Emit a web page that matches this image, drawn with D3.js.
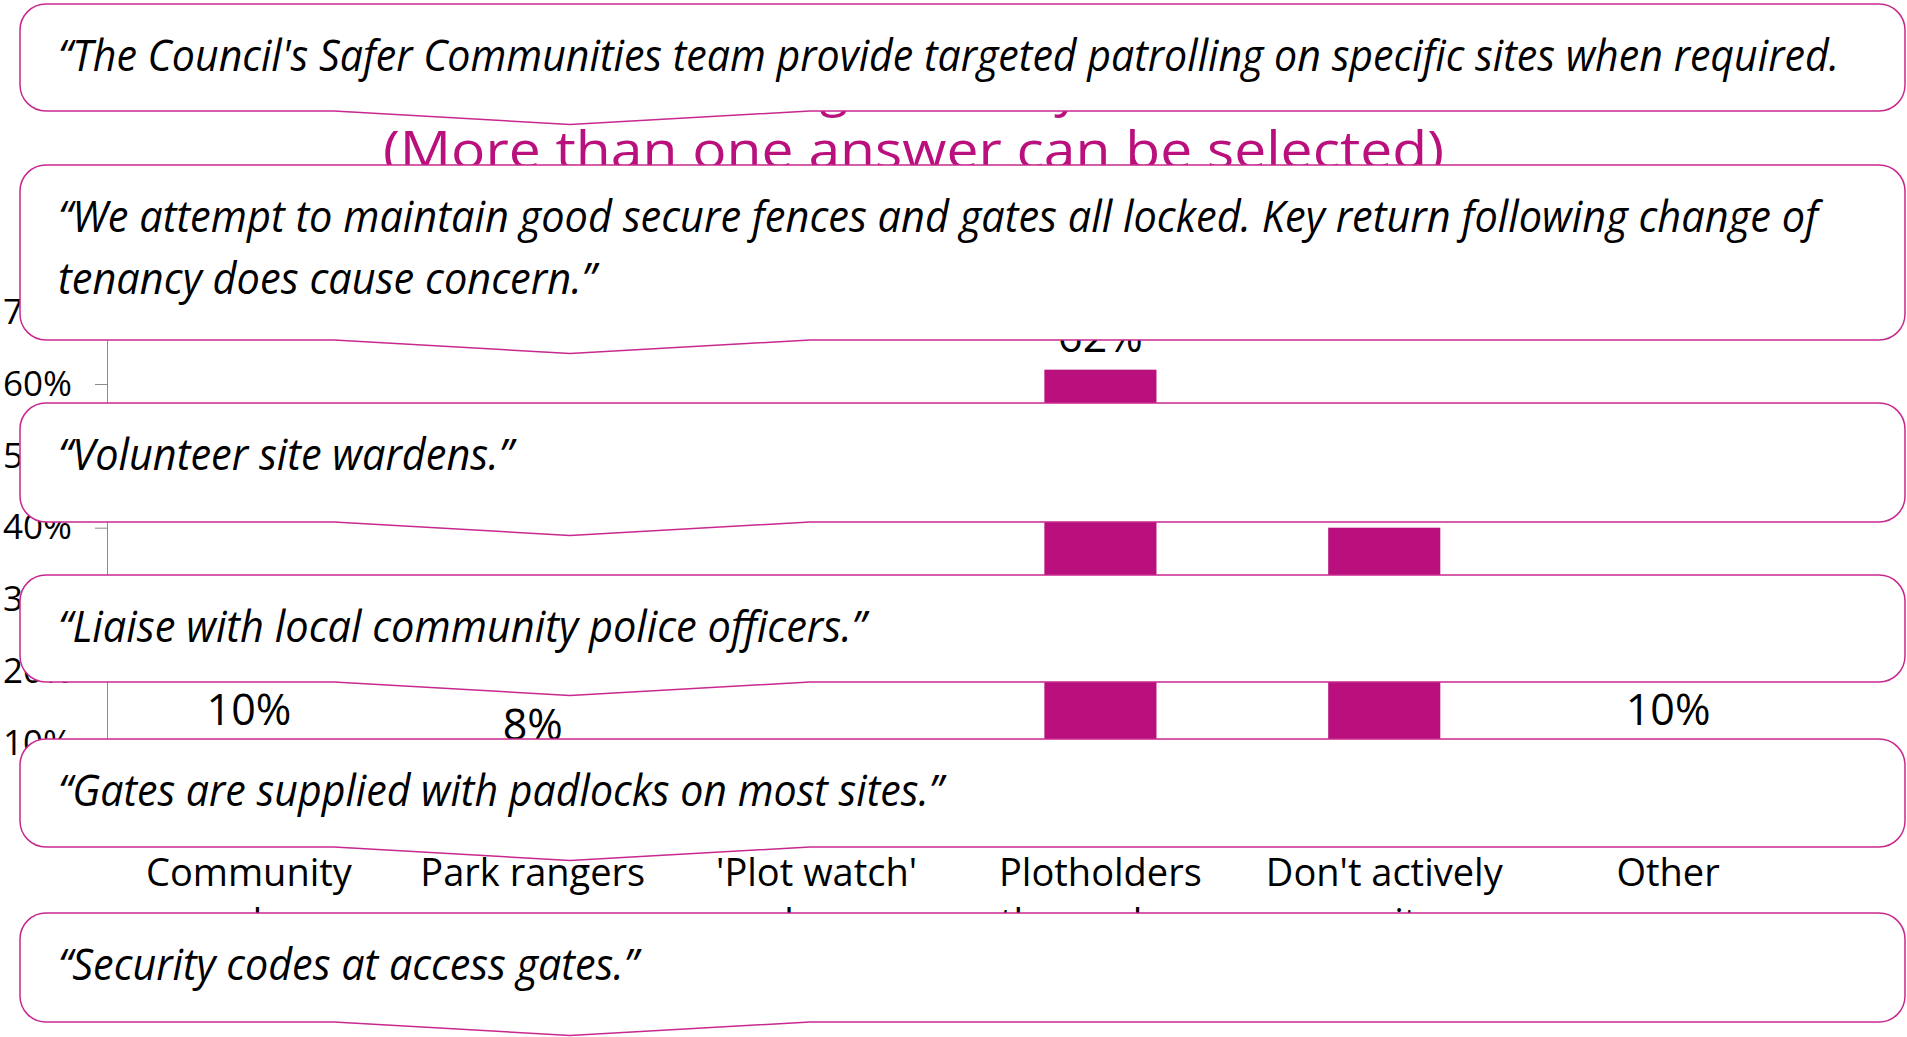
<!DOCTYPE html>
<html lang="en">
<head>
<meta charset="utf-8" />
<title>Site security</title>
<script src="https://d3js.org/d3.v7.min.js"></script>
<style>
	body { margin: 0; background: #fff; }
	svg { display: block; font-family: "Open Sans", sans-serif; }
</style>
</head>
<body>
<div id="my_dataviz"></div>
<script>
	// chart data
	var categories = ["Community", "Park rangers", "'Plot watch'", "Plotholders", "Don't actively", "Other"];
	var categoryLine2 = ["wardens", "", "scheme", "themselves", "monitor", ""];
	var values = [0.10, 0.08, 0.03, 0.62, 0.40, 0.10];
	var yTicks = [0, 0.1, 0.2, 0.3, 0.4, 0.5, 0.6, 0.7];
	var titleLines = ["Methods to manage security on the site", "(More than one answer can be selected)"];

	// quotes laid over the chart
	var quotes = [
		["\u201CThe Council's Safer Communities team provide targeted patrolling on specific sites when required."],
		["\u201CWe attempt to maintain good secure fences and gates all locked. Key return following change of", "tenancy does cause concern.\u201D"],
		["\u201CVolunteer site wardens.\u201D"],
		["\u201CLiaise with local community police officers.\u201D"],
		["\u201CGates are supplied with padlocks on most sites.\u201D"],
		["\u201CSecurity codes at access gates.\u201D"]
	];

	// layout of the quote boxes (px)
	var boxTop = [4, 165, 403, 575, 739, 913];
	var boxHeight = [107, 175, 119, 107, 108, 109];
	var lineWidth = [[1781], [1760, 538], [455], [808], [885], [580]];

	var W = 1907, H = 1037;
	var magenta = "#b9107d";

	var svg = d3.select("#my_dataviz")
		.append("svg")
		.attr("width", W)
		.attr("height", H);

	// scales
	var x = d3.scaleBand()
		.domain(categories)
		.range([107, 1810])
		.paddingInner(0.605)
		.paddingOuter(0.3025);

	var y = d3.scaleLinear()
		.domain([0, 0.7])
		.range([815, 312.2]);

	// title (mostly covered by the quotes)
	svg.append("text")
		.attr("x", 870)
		.attr("y", 106)
		.attr("text-anchor", "middle")
		.style("font-size", "52px")
		.style("fill", magenta)
		.text(titleLines[0]);

	svg.append("text")
		.attr("x", 383)
		.attr("y", 168)
		.attr("textLength", 1061)
		.attr("lengthAdjust", "spacingAndGlyphs")
		.style("font-size", "52px")
		.style("fill", magenta)
		.text(titleLines[1]);

	// y axis
	var yAxis = svg.append("g")
		.attr("transform", "translate(107,0)")
		.call(d3.axisLeft(y).tickValues(yTicks).tickFormat(d3.format(".0%")).tickSize(12).tickPadding(23));
	yAxis.selectAll("path, line").attr("stroke", "#8c8c8c");
	yAxis.selectAll("text").style("font-size", "35px").style("font-family", "Open Sans").attr("fill", "#000");

	// x axis with two line labels
	var xAxis = svg.append("g")
		.attr("transform", "translate(0,815)")
		.call(d3.axisBottom(x).tickSize(0).tickFormat(""));
	xAxis.select(".domain").attr("stroke", "#8c8c8c");
	xAxis.selectAll(".tick").each(function(d, i) {
		var t = d3.select(this).append("text")
			.attr("fill", "#000")
			.attr("text-anchor", "middle")
			.style("font-size", "38px")
			.style("font-family", "Open Sans");
		t.append("tspan").attr("x", 0).attr("y", 71).text(categories[i]);
		t.append("tspan").attr("x", 0).attr("y", 121).text(categoryLine2[i]);
	});

	// bars
	var bw = x.bandwidth();
	svg.selectAll(".bar")
		.data(values)
		.enter()
		.append("rect")
		.attr("class", "bar")
		.attr("x", function(d, i) { return x(categories[i]); })
		.attr("y", function(d) { return y(d); })
		.attr("width", bw)
		.attr("height", function(d) { return y(0) - y(d); })
		.style("fill", magenta);

	// value labels
	svg.selectAll(".val")
		.data(values)
		.enter()
		.append("text")
		.attr("class", "val")
		.attr("x", function(d, i) { return x(categories[i]) + bw / 2; })
		.attr("y", function(d) { return y(d) - 18; })
		.attr("text-anchor", "middle")
		.style("font-size", "43px")
		.text(function(d) { return Math.round(d * 100) + "%"; });

	// callout shape: rounded box with a wide shallow tail below
	function calloutPath(top, h) {
		var x0 = 20, x1 = 1905, r = 26, b = top + h;
		var tl = 334, ta = 570, tr = 810, td = 13.5;
		return "M" + (x0 + r) + "," + top +
			"H" + (x1 - r) +
			"A" + r + "," + r + " 0 0 1 " + x1 + "," + (top + r) +
			"V" + (b - r) +
			"A" + r + "," + r + " 0 0 1 " + (x1 - r) + "," + b +
			"H" + tr + "L" + ta + "," + (b + td) + "L" + tl + "," + b +
			"H" + (x0 + r) +
			"A" + r + "," + r + " 0 0 1 " + x0 + "," + (b - r) +
			"V" + (top + r) +
			"A" + r + "," + r + " 0 0 1 " + (x0 + r) + "," + top + "Z";
	}

	var boxes = svg.selectAll(".quote")
		.data(quotes)
		.enter()
		.append("g")
		.attr("class", "quote");

	boxes.append("path")
		.attr("d", function(d, i) { return calloutPath(boxTop[i], boxHeight[i]); })
		.style("fill", "#fff")
		.style("stroke", "#c8298e")
		.style("stroke-width", 1.5);

	boxes.each(function(lines, i) {
		var g = d3.select(this);
		lines.forEach(function(line, j) {
			g.append("text")
				.attr("x", 58)
				.attr("y", boxTop[i] + 67 + j * 62)
				.attr("textLength", lineWidth[i][j])
				.attr("lengthAdjust", "spacingAndGlyphs")
				.style("font-size", "44px")
				.style("font-style", "italic")
				.style("fill", "#000")
				.text(line);
		});
	});
</script>
</body>
</html>
